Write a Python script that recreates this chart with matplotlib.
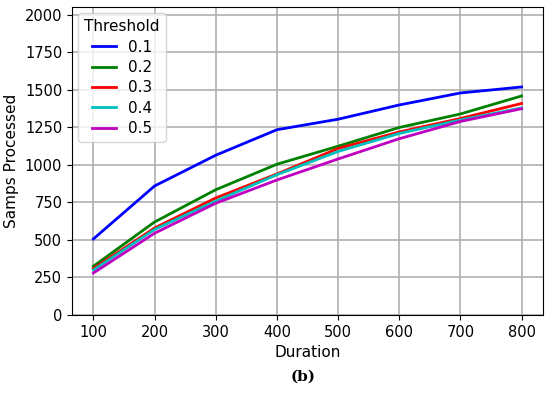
import matplotlib.pyplot as plt

durations = [100, 200, 300, 400, 500, 600, 700, 800]
thresholds = ['0.1', '0.2', '0.3', '0.4', '0.5']
samps = [
    [507, 860, 1065, 1235, 1305, 1400, 1480, 1520],
    [325, 620, 835, 1005, 1125, 1250, 1340, 1460],
    [310, 580, 780, 940, 1110, 1220, 1310, 1410],
    [300, 570, 760, 935, 1090, 1210, 1300, 1380],
    [280, 545, 745, 900, 1040, 1175, 1290, 1375],
]
colors = ['b', 'g', 'r', 'c', 'm']

fig = plt.figure(figsize=(5.5, 3.96), dpi=100)
ax = fig.add_axes([72 / 550, 1 - 315 / 396, 471 / 550, 308 / 396])

for th, vals, c in zip(thresholds, samps, colors):
    ax.plot(durations, vals, color=c, linewidth=2, label=th)

ax.set_ylim(0, 2053)
ax.set_xlim(65, 835)
ax.set_yticks(range(0, 2001, 250))
ax.set_xticks(durations)
ax.grid(True, color='#b0b0b0', linewidth=1.2)
ax.set_axisbelow(True)
ax.tick_params(labelsize=10.5)
ax.set_xlabel('Duration', fontsize=11)
ax.set_ylabel('Samps Processed', fontsize=11)
ax.legend(title='Threshold', loc='upper left', fontsize=11, title_fontsize=11,
          handlelength=1.6, borderaxespad=0.4, labelspacing=0.35)

fig.text(0.552, 0.04, '(b)', ha='center', fontsize=11, family='DejaVu Serif',
         weight='bold')

fig.savefig('out.png', dpi=100)
